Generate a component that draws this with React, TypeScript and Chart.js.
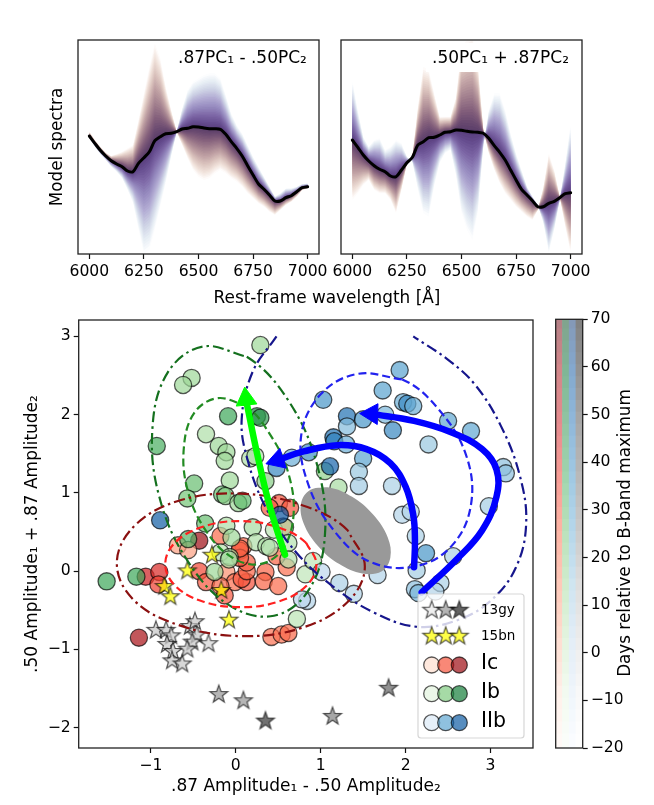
import React, { useEffect, useRef } from "react";
import { Chart, registerables } from "chart.js";

Chart.register(...registerables);
Chart.defaults.font.family = "'DejaVu Sans', sans-serif";
Chart.defaults.font.size = 15.6;
Chart.defaults.color = "#000";

const FIG_W = 654;
const FIG_H = 805;

// ---- top panels, flux (arbitrary units)
const wavelengths = [
  6000, 6025, 6050, 6075, 6100, 6125, 6150, 6175, 6200, 6225, 6250, 6275, 6300, 6325, 6350, 6375, 6400, 6425, 6450, 6475, 6500,
  6525, 6550, 6575, 6600, 6625, 6650, 6675, 6700, 6725, 6750, 6775, 6800, 6825, 6850, 6875, 6900, 6925, 6950, 6975, 7000,
];
const meanLeft = [
  118, 110.7, 103.7, 98, 93.3, 90, 87.3, 83, 82.3, 90.7, 96.3, 102.3, 113.3, 117.3, 120.3, 120.7, 122.3, 125, 125.7, 127.3, 127,
  126, 125.3, 125.3, 124.7, 119.7, 112.3, 105.7, 98, 88.3, 79, 70, 64.7, 59, 53, 53, 56.3, 58.3, 62.3, 66.3, 67.3,
];
const redEdgeLeft = [
  122.3, 114, 107.3, 101.3, 98, 100, 102.3, 105.7, 109, 134, 160.7, 187.3, 210.7, 195.7, 167.3, 144, 122.3, 109, 95.7, 84, 77.3,
  74, 75.7, 80.7, 84, 80.7, 75.7, 72.3, 67.3, 60.7, 55.7, 50.7, 47.3, 42.3, 39, 44, 49, 52.3, 57.3, 64, 65.7,
];
const blueEdgeLeft = [
  115.7, 107.3, 100, 94, 87.3, 82.3, 75.7, 64, 50.7, 24, 0, 4, 24, 47.3, 70.7, 97.3, 122.3, 145.7, 164, 172.3, 175.7,
  179, 180.7, 180.7, 175.7, 159, 140.7, 129, 120.7, 109, 97.3, 87.3, 77.3, 67.3, 57.3, 60.7, 65.7, 65.7, 67.3, 70, 70.7,
];
const meanRight = [
  114, 106.7, 99, 93, 88.3, 84.7, 82.3, 78, 77.3, 84, 91.3, 96.7, 109, 112.3, 116.3, 116.7, 119, 121.7, 122.3, 124, 123.7,
  122.7, 122, 121.7, 120.7, 115.7, 108.3, 101.7, 94, 84, 74, 64.7, 59, 53.3, 47.3, 47.3, 50.7, 52.7, 56.3, 60.3, 61.3,
];
const redEdgeRight = [
  54, 60.7, 69, 74, 64, 60.7, 60.7, 54, 40.7, 64, 90.7, 97.3, 147.3, 187.3, 184, 160.7, 137.3, 137.3, 137.3, 157.3, 207.3,
  214, 217.3, 190.7, 124, 100.7, 84, 70.7, 60.7, 54, 47.3, 42.3, 37.3, 34, 44, 67.3, 100.7, 84, 57.3, 27.3, 0.7,
];
const blueEdgeRight = [
  174, 144, 117.3, 107.3, 114, 115.7, 104, 107.3, 114, 110.7, 97.3, 92.3, 64, 40.7, 37.3, 67.3, 90.7, 100.7, 104, 77.3, 40.7,
  24, 14, 40.7, 107.3, 144, 160.7, 160.7, 144, 120.7, 100.7, 84, 67.3, 57.3, 49, 30.7, 0.7, 24, 54, 90.7, 130.7,
];
// shading of the fans, from the mean line outwards
const fanFractions = [
  0.03, 0.06, 0.09, 0.12, 0.15, 0.18, 0.21, 0.24, 0.27, 0.3, 0.33, 0.36, 0.39, 0.42, 0.45, 0.48, 0.51, 0.54, 0.57, 0.6,
  0.63, 0.66, 0.69, 0.72, 0.75, 0.78, 0.81, 0.84, 0.87, 0.9, 0.93, 0.96, 1,
];
const redFanStops: [number, string][] = [
  [0, "#553a68"], [0.12, "#6a4a70"], [0.25, "#84607c"], [0.4, "#a2808e"], [0.56, "#c0a1a4"], [0.72, "#dcc5bf"], [0.87, "#f1e3dc"], [1, "#fefbfa"],
];
const blueFanStops: [number, string][] = [
  [0, "#553a78"], [0.12, "#664d8f"], [0.25, "#7c65a5"], [0.4, "#9488bd"], [0.56, "#b0a9d2"], [0.72, "#ccd0e4"], [0.87, "#e6edf4"], [1, "#fcfdfe"],
];

// ---- scatter points: [amp x, amp y, days from maximum]
type Obs = [number, number, number];
const icPoints: Obs[] = [
  [-0.43, 0.39, 60], [-0.68, 0.33, 10], [-0.56, 0.27, 10], [-0.18, 0.45, 25], [0.51, 0.87, 30], [0.64, 0.81, 30], [0.4, 0.81, 30],
  [0.09, 0.32, 27], [0.05, 0.26, 28], [-1.06, -0.07, 46], [-0.9, -0.01, 43], [-0.91, -0.17, 36], [-1.14, -0.85, 58], [-0.43, 0, 34],
  [-0.35, -0.14, 30], [-0.11, -0.01, 15], [-0.01, -0.14, 24], [0.13, -0.14, 32], [0.07, -0.1, 30], [0.13, 0, 27], [0.13, 0.11, 28],
  [0.05, 0.17, 28], [0.35, -0.01, 27], [0.33, -0.13, 27], [0.5, -0.19, 25], [-0.13, -0.31, 30], [-0.18, -0.19, 26], [0.42, -0.84, 23],
  [0.54, -0.81, 23], [0.62, -0.79, 26], [0.6, 0.05, 24], [0.48, 0.19, 27], [0.05, 0.29, 27], [0.56, 0.57, 26],
];
const ibPoints: Obs[] = [
  [0.29, 2.89, 15], [-0.52, 2.47, 15], [-0.62, 2.38, 15], [-0.09, 1.98, 38], [0.25, 1.98, 50], [0.29, 1.96, 42], [-0.35, 1.75, 10],
  [-0.93, 1.6, 35], [-0.2, 1.6, 15], [-0.11, 1.52, 15], [-0.13, 1.41, 14], [0.17, 1.44, 10], [0.23, 1.47, 10], [-0.07, 1.16, 14],
  [0.35, 1.15, 20], [-0.49, 1.12, 28], [-0.57, 0.93, 25], [-0.16, 0.98, 28], [-0.12, 0.96, 20], [0.03, 0.87, 15], [0.08, 0.9, 30],
  [-0.36, 0.61, 28], [-0.11, 0.58, 10], [0.2, 0.56, 12], [0.45, 0.53, 6], [0.58, 0.56, 10], [-0.56, 0.41, 32], [-0.05, 0.43, 15],
  [0.24, 0.37, 10], [0.36, 0.32, 10], [0.4, 0.3, 8], [0.62, 0.36, 8], [-0.18, 0.24, 7], [-0.07, 0.18, 12], [-1.52, -0.13, 38],
  [-1.17, -0.07, 38], [-0.25, -0.01, 15], [-0.08, 0.15, 12], [0.62, 0.15, 8], [0.82, -0.04, 5], [0.72, -0.61, 6], [0.91, 0.13, 5],
  [1.21, 1.07, 12], [1.05, 1.28, 18],
];
const iibPoints: Obs[] = [
  [1.93, 2.57, 30], [1.73, 2.31, 30], [1.03, 2.19, 35], [1.97, 2.16, 25], [2.02, 2.14, 40], [2.09, 2.11, 25], [1.76, 2, 22],
  [1.31, 1.98, 48], [1.31, 1.85, 20], [1.5, 1.94, 35], [1.85, 1.8, 40], [2.5, 1.92, 28], [2.77, 1.79, 28], [2.27, 1.62, 15],
  [1.15, 1.71, 48], [1.16, 1.66, 42], [1.3, 1.62, 25], [0.86, 1.52, 38], [1.5, 1.44, 30], [1.11, 1.34, 52], [1.45, 1.27, 15],
  [1.45, 1.09, 13], [1.84, 1.09, 10], [3.15, 1.33, 18], [3.18, 1.25, 18], [2.98, 0.83, 12], [1.96, 0.72, 8], [2.06, 0.76, 8],
  [2.12, 0.45, 10], [2.24, 0.23, 35], [2.56, 0.19, 10], [2.13, 0.01, 12], [2.41, -0.15, 10], [2.11, -0.23, 18], [2.15, -0.28, 22],
  [2.35, -0.26, 8], [1.67, -0.05, 8], [1.22, -0.15, 10], [1.39, -0.29, 8], [1.01, -0.01, 5], [0.84, -0.38, 8], [0.78, -0.36, 5],
  [-0.89, 0.65, 55], [0.52, 0.72, 58], [0.48, 1.32, 40], [0.66, 1.45, 25],
];
const gyPoints: Obs[] = [
  [-0.94, -0.75, 10], [-0.82, -0.75, 10], [-0.76, -0.82, 10], [-0.81, -0.93, 10], [-0.74, -1.02, 10], [-0.75, -1.14, 10],
  [-0.63, -1.18, 10], [-0.54, -0.7, 10], [-0.48, -0.64, 10], [-0.46, -0.81, 10], [-0.51, -0.9, 10], [-0.57, -0.99, 10],
  [-0.32, -0.92, 5], [-0.2, -1.57, 25], [0.09, -1.65, 25], [0.35, -1.91, 55], [1.8, -1.49, 42], [1.14, -1.85, 32],
];
const bnPoints: [number, number][] = [
  [-0.28, 0.21], [-0.57, 0.01], [-0.84, -0.19], [-0.77, -0.32], [-0.17, -0.24], [-0.08, -0.62],
];

// ---- contours and arrows traced on the amplitude plane
const outerIb: [number, number][] = [
  [-0.39, 2.87], [0.13, 2.74], [0.62, 2.18], [0.96, 1.35], [1.05, 0.46], [0.86, -0.24], [0.45, -0.57], [-0.07, -0.44], [-0.56, 0.12], [-0.9, 0.95], [-0.98, 1.84], [-0.8, 2.54], [-0.39, 2.87], [0.13, 2.74],
];
const innerIb: [number, number][] = [
  [-0.22, 2.21], [0.11, 2.12], [0.42, 1.72], [0.62, 1.25], [0.68, 0.71], [0.55, 0.28], [0.28, 0.09], [-0.05, 0.18], [-0.36, 0.53], [-0.57, 1.05], [-0.61, 1.59], [-0.49, 2.02], [-0.22, 2.21], [0.11, 2.12],
];
const outerIc: [number, number][] = [
  [1.52, 0.06], [1.32, 0.52], [0.79, 0.84], [0.06, 0.99], [-0.67, 0.9], [-1.2, 0.57], [-1.4, 0.1], [-1.2, -0.37], [-0.67, -0.69], [0.06, -0.83], [0.79, -0.72], [1.32, -0.39], [1.52, 0.06], [1.32, 0.52],
];
const innerIc: [number, number][] = [
  [0.95, 0.09], [0.83, 0.36], [0.5, 0.56], [0.06, 0.64], [-0.38, 0.57], [-0.71, 0.37], [-0.83, 0.09], [-0.71, -0.19], [-0.38, -0.39], [0.06, -0.46], [0.5, -0.39], [0.83, -0.19], [0.95, 0.09], [0.83, 0.36],
];
const innerIIb: [number, number][] = [
  [1.43, 2.52], [1.96, 2.45], [2.38, 2.08], [2.71, 1.49], [2.77, 0.85], [2.54, 0.32], [2.11, 0.06], [1.58, 0.12], [1.17, 0.5], [0.86, 1.09], [0.77, 1.73], [1, 2.26], [1.43, 2.52], [1.96, 2.45],
];
const outerIIb: [number, number][] = [
  [0.48, 3], [0.2, 2.55], [0.07, 1.94], [0.14, 1.42], [0.36, 0.8], [0.72, 0.23], [1.15, -0.2], [1.63, -0.53], [2.13, -0.71], [2.6, -0.63],
  [3, -0.38], [3.3, 0.05], [3.42, 0.62], [3.34, 1.24], [3.12, 1.86], [2.82, 2.38], [2.49, 2.71], [2.09, 3],
];
const grayBlob: [number, number][] = [
  [0.88, 1.04], [1.1, 1.07], [1.37, 0.95], [1.62, 0.72], [1.79, 0.43], [1.82, 0.17], [1.72, 0], [1.49, -0.03], [1.22, 0.09], [0.97, 0.32], [0.8, 0.61], [0.77, 0.87], [0.88, 1.04], [1.1, 1.07],
];
const arrowOuterBlue: [number, number][] = [
  [2.19, -0.27], [2.6, 0.15], [2.9, 0.52], [3.07, 0.95], [3.07, 1.3], [2.9, 1.56], [2.55, 1.77], [2.1, 1.92], [1.6, 2.01],
];
const arrowInnerBlue: [number, number][] = [
  [2.1, 0.05], [2.11, 0.4], [2.09, 0.72], [2, 1.08], [1.82, 1.38], [1.54, 1.56], [1.2, 1.61], [0.8, 1.53], [0.49, 1.42],
];
const arrowGreen: [number, number][] = [[0.58, 0.21], [0.4, 0.83], [0.25, 1.51], [0.12, 2.2]];

// ---- colour tables
const REDS = ["#fff5f0", "#fee0d2", "#fcbba1", "#fc9272", "#fb6a4a", "#ef3b2c", "#cb181d", "#a50f15", "#67000d"];
const GREENS = ["#f7fcf5", "#e5f5e0", "#c7e9c0", "#a1d99b", "#74c476", "#41ab5d", "#238b45", "#006d2c", "#00441b"];
const BLUES = ["#f7fbff", "#deebf7", "#c6dbef", "#9ecae1", "#6baed6", "#4292c6", "#2171b5", "#08519c", "#08306b"];
const GREYS = ["#ffffff", "#f0f0f0", "#d9d9d9", "#bdbdbd", "#969696", "#737373", "#525252", "#252525", "#000000"];
const colorbarColumns = ["Ic", "Ib", "IIb", "13gy"];
const colorbarMaps = [REDS, GREENS, BLUES, GREYS];

const PHASE_MIN = -20;
const PHASE_MAX = 70;

function hexRgb(h: string) {
  return [parseInt(h.slice(1, 3), 16), parseInt(h.slice(3, 5), 16), parseInt(h.slice(5, 7), 16)];
}

function phaseRgb(map: string[], phase: number) {
  const t = Math.min(1, Math.max(0, (phase - PHASE_MIN) / (PHASE_MAX - PHASE_MIN))) * (map.length - 1);
  const i = Math.min(map.length - 2, Math.floor(t));
  const a = hexRgb(map[i]);
  const b = hexRgb(map[i + 1]);
  return a.map((v, k) => v + (b[k] - v) * (t - i));
}

function phaseColor(map: string[], phase: number, alpha = 0.7) {
  const [r, g, b] = phaseRgb(map, phase);
  return `rgba(${r},${g},${b},${alpha})`;
}

// colorbar is paler, flattened on white so that the strips can overlap
function colorbarColor(map: string[], phase: number) {
  const [r, g, b] = phaseRgb(map, phase).map((v) => v * 0.5 + 127.5);
  return `rgb(${r},${g},${b})`;
}

function fanColor(stops: [number, string][], f: number) {
  let i = 0;
  while (i < stops.length - 2 && f > stops[i + 1][0]) i++;
  const t = (f - stops[i][0]) / (stops[i + 1][0] - stops[i][0]);
  const a = hexRgb(stops[i][1]);
  const b = hexRgb(stops[i + 1][1]);
  return `rgb(${a.map((v, k) => v + (b[k] - v) * t).join(",")})`;
}

function starSprite(fill: string) {
  const c = document.createElement("canvas");
  c.width = 26;
  c.height = 26;
  const ctx = c.getContext("2d")!;
  ctx.beginPath();
  for (let i = 0; i < 10; i++) {
    const r = i % 2 ? 3.8 : 9.4;
    const a = -Math.PI / 2 + (i * Math.PI) / 5;
    ctx.lineTo(13 + r * Math.cos(a), 13.5 + r * Math.sin(a));
  }
  ctx.closePath();
  ctx.fillStyle = fill;
  ctx.fill();
  ctx.strokeStyle = "rgba(0,0,0,0.65)";
  ctx.lineWidth = 1.2;
  ctx.stroke();
  return c;
}

function putText(ctx: CanvasRenderingContext2D, text: string, x: number, y: number, size: number, rotate = 0, align: CanvasTextAlign = "left") {
  ctx.save();
  ctx.translate(x, y);
  ctx.rotate(rotate);
  ctx.font = `${size}px 'DejaVu Sans', sans-serif`;
  ctx.fillStyle = "#000";
  ctx.textAlign = align;
  ctx.textBaseline = "middle";
  ctx.fillText(text, 0, 0);
  ctx.restore();
}

const framePlugin = {
  id: "frame",
  afterDatasetsDraw(chart: any) {
    const { ctx, chartArea: a } = chart;
    ctx.save();
    ctx.strokeStyle = "#222";
    ctx.lineWidth = 1.3;
    ctx.strokeRect(a.left, a.top, a.right - a.left, a.bottom - a.top);
    ctx.restore();
  },
};

const tickGrid = { display: true, drawOnChartArea: false, drawTicks: true, tickLength: 5, tickColor: "#111", tickWidth: 1.2 };
const noInteraction = { events: [] as string[], responsive: false, animation: false as const };
const minusSign = (v: any) => String(v).replace("-", "\u2212");

function xy(points: [number, number][] | Obs[]) {
  return points.map((p) => ({ x: p[0], y: p[1] }));
}

function panelConfig(mean: number[], redEdge: number[], blueEdge: number[], left: number, right: number, isLeft: boolean, label: string, labelX: number, labelBox: number[] | null, extra?: string) {
  const fan = (edge: number[], f: number) => wavelengths.map((x, j) => ({ x, y: mean[j] + f * (edge[j] - mean[j]) }));
  const datasets: any[] = [
    { data: wavelengths.map((x, j) => ({ x, y: mean[j] })), showLine: true, borderColor: "#000", borderWidth: 3, pointRadius: 0, tension: 0.3, borderCapStyle: "round" },
  ];
  fanFractions.forEach((f) => {
    datasets.push({ data: fan(redEdge, f), showLine: true, borderWidth: 0, pointRadius: 0, fill: 0, backgroundColor: fanColor(redFanStops, f) });
    datasets.push({ data: fan(blueEdge, f), showLine: true, borderWidth: 0, pointRadius: 0, fill: 0, backgroundColor: fanColor(blueFanStops, f) });
  });
  const leftW = isLeft ? 30 : 0;
  const bottomH = 28;
  return {
    type: "scatter",
    data: { datasets },
    options: {
      ...noInteraction,
      layout: { padding: { left: left - leftW, top: 40, right: FIG_W - right, bottom: FIG_H - 254 - bottomH } },
      plugins: { legend: { display: false }, tooltip: { enabled: false } },
      scales: {
        x: {
          type: "linear",
          min: 5948,
          max: 7052,
          afterFit: (s: any) => { s.height = bottomH; },
          grid: tickGrid,
          border: { display: false },
          ticks: { stepSize: 250, includeBounds: false, maxRotation: 0, autoSkip: false, padding: 4, callback: (v: any) => String(v) },
        },
        y: {
          display: isLeft,
          min: 0,
          max: 214,
          afterFit: (s: any) => { s.width = leftW; },
          grid: { display: false },
          border: { display: false },
          ticks: { display: false },
          title: { display: isLeft, text: "Model spectra", font: { size: 16.8 }, padding: 0 },
        },
      },
    },
    plugins: [
      framePlugin,
      {
        id: "panelLabel",
        afterDatasetsDraw(chart: any) {
          const { ctx } = chart;
          if (labelBox) {
            ctx.save();
            ctx.fillStyle = "#fff";
            ctx.fillRect(labelBox[0], labelBox[1], labelBox[2], labelBox[3]);
            ctx.restore();
          }
          putText(ctx, label, labelX, 59, 17);
          if (extra) putText(ctx, extra, 327, 298.5, 16.9, 0, "center");
        },
      },
    ],
  };
}

function circleSeries(points: Obs[], map: string[]) {
  return {
    data: xy(points),
    pointRadius: 8.6,
    pointBackgroundColor: points.map((p) => phaseColor(map, p[2])),
    pointBorderColor: "rgba(0,0,0,0.65)",
    pointBorderWidth: 1.3,
  };
}

// closed rings repeat their first two points: the first stretch stays hidden so that the seam is smooth
function contour(points: [number, number][], color: string, dash: number[], closed = true) {
  return {
    data: xy(points),
    showLine: true,
    borderColor: color,
    borderWidth: 2.2,
    borderDash: dash,
    pointRadius: 0,
    tension: 0.38,
    segment: { borderColor: (c: any) => (closed && c.p0DataIndex === 0 ? "rgba(0,0,0,0)" : undefined) },
  };
}

function arrow(points: [number, number][], color: string, rotation: number) {
  return {
    data: xy(points),
    showLine: true,
    borderColor: color,
    borderWidth: 6.5,
    borderCapStyle: "round",
    tension: 0.4,
    pointStyle: "triangle",
    pointRotation: rotation,
    pointRadius: points.map((_, i) => (i === points.length - 1 ? 12 : 0)),
    pointBackgroundColor: color,
    pointBorderColor: color,
    pointBorderWidth: 1,
  };
}

function mainConfig() {
  const dashDot = [11, 4, 2.5, 4];
  const dashed = [8, 4];
  const leftW = 58;
  const bottomH = 53;
  const gyStars = gyPoints.map((p) => starSprite(phaseColor(GREYS, p[2])));
  const yellow = starSprite("rgba(255,255,0,0.72)");
  const legendRows: { label: string; size: number; y: number; kind: string; map?: string[]; phases: number[] }[] = [
    { label: "13gy", size: 13.5, y: 610.7, kind: "star", map: GREYS, phases: [-5, 25, 60] },
    { label: "15bn", size: 13.5, y: 636.7, kind: "yellow", phases: [0, 0, 0] },
    { label: "Ic", size: 20.5, y: 664, kind: "circle", map: REDS, phases: [-8, 30, 60] },
    { label: "Ib", size: 20.5, y: 692.7, kind: "circle", map: GREENS, phases: [-8, 22, 52] },
    { label: "IIb", size: 20.5, y: 721.7, kind: "circle", map: BLUES, phases: [-8, 28, 55] },
  ];
  const legendPlugin = {
    id: "tripleLegend",
    afterDatasetsDraw(chart: any) {
      const { ctx } = chart;
      ctx.save();
      ctx.beginPath();
      ctx.roundRect(418, 594, 106, 144, 3);
      ctx.fillStyle = "rgba(255,255,255,0.8)";
      ctx.fill();
      ctx.strokeStyle = "rgba(204,204,204,0.8)";
      ctx.lineWidth = 1.2;
      ctx.stroke();
      legendRows.forEach((row) => {
        [431.7, 445.7, 459.3].forEach((x, i) => {
          if (row.kind === "circle") {
            ctx.beginPath();
            ctx.arc(x, row.y + 1, 8, 0, Math.PI * 2);
            ctx.fillStyle = phaseColor(row.map!, row.phases[i]);
            ctx.fill();
            ctx.strokeStyle = "rgba(0,0,0,0.65)";
            ctx.lineWidth = 1.3;
            ctx.stroke();
          } else {
            const sprite = row.kind === "yellow" ? yellow : starSprite(phaseColor(row.map!, row.phases[i]));
            ctx.drawImage(sprite, x - 13, row.y - 14);
          }
        });
        putText(ctx, row.label, 481, row.y, row.size);
      });
      ctx.restore();
    },
  };
  return {
    type: "scatter",
    data: {
      datasets: [
        arrow(arrowGreen, "#00ff00", -6),
        arrow(arrowOuterBlue, "#0000ff", 272),
        arrow(arrowInnerBlue, "#0000ff", 252),
        contour(outerIIb, "#16168c", dashDot, false),
        contour(innerIIb, "#2222ee", dashed),
        contour(outerIc, "#8b1010", dashDot),
        contour(innerIc, "#ff2020", dashed),
        contour(outerIb, "#14701e", dashDot),
        contour(innerIb, "#228b22", dashed),
        { data: xy(grayBlob), showLine: true, fill: "shape", tension: 0.38, borderWidth: 0, pointRadius: 0, backgroundColor: "#999999" },
        { data: xy(bnPoints), pointStyle: bnPoints.map(() => yellow), pointRadius: 8 },
        { data: xy(gyPoints), pointStyle: gyStars, pointRadius: 8 },
        circleSeries(iibPoints, BLUES),
        circleSeries(ibPoints, GREENS),
        circleSeries(icPoints, REDS),
      ],
    },
    options: {
      ...noInteraction,
      layout: { padding: { left: 78.7 - leftW, top: 320, right: FIG_W - 533, bottom: FIG_H - 748 - bottomH } },
      plugins: { legend: { display: false }, tooltip: { enabled: false } },
      scales: {
        x: {
          type: "linear",
          min: -1.849,
          max: 3.5,
          afterFit: (s: any) => { s.height = bottomH; },
          grid: tickGrid,
          border: { display: false },
          ticks: { stepSize: 1, includeBounds: false, maxRotation: 0, padding: 4, callback: minusSign },
          title: { display: true, text: ".87 Amplitude\u2081 - .50 Amplitude\u2082", font: { size: 17 }, padding: { top: 2, bottom: 4 } },
        },
        y: {
          type: "linear",
          min: -2.26,
          max: 3.21,
          afterFit: (s: any) => { s.width = leftW; },
          grid: tickGrid,
          border: { display: false },
          ticks: { stepSize: 1, includeBounds: false, callback: minusSign },
          title: { display: true, text: ".50 Amplitude\u2081 + .87 Amplitude\u2082", font: { size: 17 }, padding: { top: 2, bottom: 2 } },
        },
      },
    },
    plugins: [framePlugin, legendPlugin],
  };
}

function colorbarConfig() {
  const datasets: any[] = [];
  for (let p = PHASE_MIN; p < PHASE_MAX; p += 2.5) {
    datasets.push({
      data: colorbarColumns.map(() => [p, Math.min(PHASE_MAX, p + 3)]),
      backgroundColor: colorbarMaps.map((m) => colorbarColor(m, p + 1.25)),
      borderWidth: 0,
      barPercentage: 1,
      categoryPercentage: 1,
    });
  }
  const rightW = 40;
  return {
    type: "bar",
    data: { labels: colorbarColumns, datasets },
    options: {
      ...noInteraction,
      layout: { padding: { left: 555.7, top: 319.3, right: FIG_W - 582.7 - rightW, bottom: FIG_H - 748 } },
      plugins: { legend: { display: false }, tooltip: { enabled: false } },
      scales: {
        x: { display: false, stacked: true },
        y: {
          position: "right",
          stacked: false,
          min: PHASE_MIN,
          max: PHASE_MAX,
          afterFit: (s: any) => { s.width = rightW; },
          grid: tickGrid,
          border: { display: false },
          ticks: { stepSize: 10, callback: minusSign },
        },
      },
    },
    plugins: [
      framePlugin,
      {
        id: "colorbarLabel",
        afterDatasetsDraw(chart: any) {
          putText(chart.ctx, "Days relative to B-band maximum", 626, 533, 16.8, -Math.PI / 2, "center");
        },
      },
    ],
  };
}

const ChartCanvas: React.FC<{ build: () => any }> = ({ build }) => {
  const ref = useRef<HTMLCanvasElement>(null);
  useEffect(() => {
    if (!ref.current) return;
    const chart = new Chart(ref.current, build());
    return () => chart.destroy();
  }, [build]);
  return <canvas ref={ref} width={FIG_W} height={FIG_H} style={{ position: "absolute", left: 0, top: 0 }} />;
};

const buildLeft = () =>
  panelConfig(meanLeft, redEdgeLeft, blueEdgeLeft, 78, 319, true, ".87PC\u2081 - .50PC\u2082", 178, null, "Rest-frame wavelength [\u00c5]");
const buildRight = () =>
  panelConfig(meanRight, redEdgeRight, blueEdgeRight, 341, 582, false, ".50PC\u2081 + .87PC\u2082", 432, [426, 43, 150, 29]);

export default function App() {
  return (
    <div style={{ position: "absolute", left: 0, top: 0, width: FIG_W, height: FIG_H, background: "#fff" }}>
      <ChartCanvas build={buildLeft} />
      <ChartCanvas build={buildRight} />
      <ChartCanvas build={mainConfig} />
      <ChartCanvas build={colorbarConfig} />
    </div>
  );
}
